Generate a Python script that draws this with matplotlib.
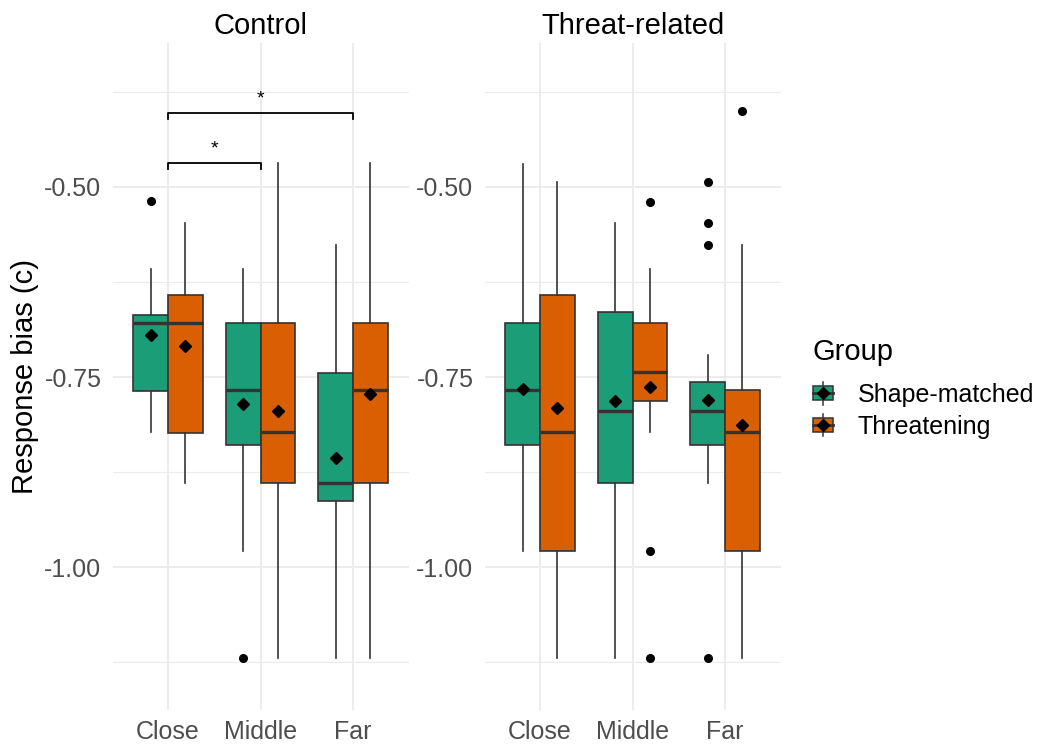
import matplotlib
matplotlib.use("Agg")
import matplotlib.pyplot as plt
from matplotlib.patches import Patch, Rectangle
from matplotlib.lines import Line2D
from matplotlib.legend_handler import HandlerBase

plt.rcParams["font.family"] = ["Liberation Sans", "DejaVu Sans"]

# ---- data -------------------------------------------------------------
panels = ["Control", "Threat-related"]
distances = ["Close", "Middle", "Far"]
groups = ["Shape-matched", "Threatening"]
colors = ["#1B9E77", "#D95F02"]

# Control, Shape-matched
ctl_sm_whishi = [-0.608, -0.608, -0.576]
ctl_sm_q3 = [-0.669, -0.679, -0.745]
ctl_sm_med = [-0.679, -0.767, -0.890]
ctl_sm_q1 = [-0.768, -0.839, -0.913]
ctl_sm_whislo = [-0.822, -0.979, -1.120]
ctl_sm_mean = [-0.695, -0.785, -0.856]
ctl_sm_out = [[-0.519], [-1.120], []]

# Control, Threatening
ctl_th_whishi = [-0.547, -0.468, -0.469]
ctl_th_q3 = [-0.642, -0.679, -0.679]
ctl_th_med = [-0.679, -0.822, -0.767]
ctl_th_q1 = [-0.823, -0.890, -0.890]
ctl_th_whislo = [-0.890, -1.120, -1.120]
ctl_th_mean = [-0.709, -0.795, -0.772]
ctl_th_out = [[], [], []]

# Threat-related, Shape-matched
thr_sm_whishi = [-0.470, -0.547, -0.721]
thr_sm_q3 = [-0.679, -0.665, -0.756]
thr_sm_med = [-0.767, -0.795, -0.795]
thr_sm_q1 = [-0.839, -0.890, -0.839]
thr_sm_whislo = [-0.979, -1.120, -0.890]
thr_sm_mean = [-0.766, -0.782, -0.780]
thr_sm_out = [[], [], [-0.493, -0.547, -0.576, -1.120]]

# Threat-related, Threatening
thr_th_whishi = [-0.494, -0.608, -0.576]
thr_th_q3 = [-0.642, -0.679, -0.767]
thr_th_med = [-0.822, -0.743, -0.822]
thr_th_q1 = [-0.979, -0.781, -0.979]
thr_th_whislo = [-1.120, -0.822, -1.120]
thr_th_mean = [-0.791, -0.763, -0.813]
thr_th_out = [[], [-0.520, -0.979, -1.120], [-0.400]]

# significance comparisons in the Control panel: (from, to, height, label)
sig_from = ["Close", "Close"]
sig_to = ["Middle", "Far"]
sig_y = [-0.469, -0.403]
sig_label = ["*", "*"]

panel_data = {
    "Control": [
        (ctl_sm_whislo, ctl_sm_q1, ctl_sm_med, ctl_sm_q3, ctl_sm_whishi, ctl_sm_mean, ctl_sm_out),
        (ctl_th_whislo, ctl_th_q1, ctl_th_med, ctl_th_q3, ctl_th_whishi, ctl_th_mean, ctl_th_out),
    ],
    "Threat-related": [
        (thr_sm_whislo, thr_sm_q1, thr_sm_med, thr_sm_q3, thr_sm_whishi, thr_sm_mean, thr_sm_out),
        (thr_th_whislo, thr_th_q1, thr_th_med, thr_th_q3, thr_th_whishi, thr_th_mean, thr_th_out),
    ],
}

# ---- styling ----------------------------------------------------------
EDGE = "#333333"
GRID = "#EBEBEB"
TICK_COL = "#4D4D4D"
W, H = 1047, 744
fig = plt.figure(figsize=(W / 100, H / 100), dpi=100)

top_px, bot_px = 43.3, 710.0
ax_h = (bot_px - top_px) / H
ax_b = 1 - bot_px / H
lefts_px = [112.5, 484.5]
ax_w = 296.0 / W

box_w = 0.375
offsets = [-0.1875, 0.1875]

axes = []
for p, name in enumerate(panels):
    ax = fig.add_axes([lefts_px[p] / W, ax_b, ax_w, ax_h])
    axes.append(ax)
    for g in range(2):
        wl, q1, md, q3, wh, mn, out = panel_data[name][g]
        stats = []
        for i in range(3):
            stats.append(dict(whislo=wl[i], q1=q1[i], med=md[i], q3=q3[i],
                              whishi=wh[i], mean=mn[i], fliers=out[i]))
        pos = [i + 1 + offsets[g] for i in range(3)]
        ax.bxp(stats, positions=pos, widths=box_w, patch_artist=True,
               showmeans=True, showcaps=False, manage_ticks=False,
               boxprops=dict(facecolor=colors[g], edgecolor=EDGE, linewidth=1.2),
               medianprops=dict(color=EDGE, linewidth=2.4, solid_capstyle="butt"),
               whiskerprops=dict(color=EDGE, linewidth=1.2),
               flierprops=dict(marker="o", markerfacecolor="black",
                               markeredgecolor="black", markersize=5.5),
               meanprops=dict(marker="D", markerfacecolor="black",
                              markeredgecolor="black", markersize=6.5),
               zorder=3)

    ax.set_xlim(0.4, 3.6)
    ax.set_ylim(-1.188, -0.311)
    ax.set_xticks([1, 2, 3])
    ax.set_xticklabels(distances)
    ax.set_yticks([-1.0, -0.75, -0.5])
    ax.set_yticklabels(["-1.00", "-0.75", "-0.50"])
    ax.set_yticks([-1.125, -0.875, -0.625, -0.375], minor=True)
    ax.tick_params(axis="both", which="both", length=0, labelsize=18,
                   labelcolor=TICK_COL)
    ax.tick_params(axis="y", pad=8)
    ax.tick_params(axis="x", pad=7)
    ax.grid(True, which="major", color=GRID, linewidth=1.3, zorder=0)
    ax.grid(True, which="minor", axis="y", color=GRID, linewidth=0.8, zorder=0)
    ax.set_axisbelow(True)
    for s in ax.spines.values():
        s.set_visible(False)
    ax.set_title(name, fontsize=21, pad=7)

# significance brackets
ax0 = axes[0]
tick_drop = 0.007
for a, b, y, lab in zip(sig_from, sig_to, sig_y, sig_label):
    xa = distances.index(a) + 1
    xb = distances.index(b) + 1
    ax0.plot([xa, xa, xb, xb], [y - tick_drop, y, y, y - tick_drop],
             color="black", linewidth=1.3, zorder=4)
    ax0.text((xa + xb) / 2, y + 0.008, lab, ha="center", va="bottom",
             fontsize=14, color="black")

fig.text(25 / W, 1 - 376.5 / H, "Response bias (c)", rotation=90,
         ha="center", va="center", fontsize=21)


# legend keys drawn like small boxplots
class BoxKey(HandlerBase):
    def create_artists(self, legend, orig_handle, xdescent, ydescent,
                       width, height, fontsize, trans):
        x0, y0 = -xdescent, -ydescent
        cx, cy = x0 + width / 2, y0 + height / 2
        wline = Line2D([cx, cx], [y0 - 0.15 * height, y0 + 1.15 * height],
                       color=EDGE, linewidth=1.1)
        rect = Rectangle((x0, y0 + 0.1 * height), width, 0.8 * height,
                         facecolor=orig_handle.get_facecolor(),
                         edgecolor=EDGE, linewidth=1.1)
        mline = Line2D([x0, x0 + width], [cy, cy], color=EDGE, linewidth=2.0)
        dot = Line2D([cx], [cy], marker="D", color="black", markersize=6.5,
                     linestyle="none")
        arts = [wline, rect, mline, dot]
        for art in arts:
            art.set_transform(trans)
        return arts


fig.text(813 / W, 1 - 352 / H, "Group", ha="left", va="center", fontsize=21)
handles = [Patch(facecolor=c) for c in colors]
leg = fig.legend(handles, groups, handler_map={Patch: BoxKey()},
                 loc="center left", bbox_to_anchor=(813 / W, 1 - 411 / H),
                 frameon=False, fontsize=18,
                 handlelength=0.8, handleheight=0.7,
                 handletextpad=1.0, labelspacing=0.3, borderpad=0,
                 borderaxespad=0)

fig.savefig("out.png", dpi=100, facecolor="white")
